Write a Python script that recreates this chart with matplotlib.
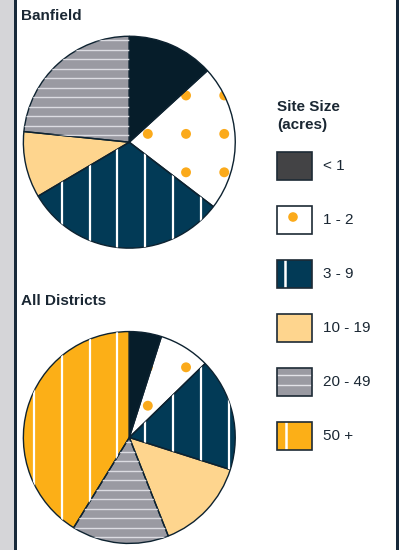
import numpy as np
import matplotlib
matplotlib.use("Agg")
import matplotlib.pyplot as plt
from matplotlib.patches import Rectangle, Circle

plt.rcParams['font.family'] = ['Liberation Sans', 'DejaVu Sans']

# data (percent of sites by size class)
categories = ['< 1', '1 - 2', '3 - 9', '10 - 19', '20 - 49', '50 +']
banfield = [13.2, 22.2, 31.1, 10.1, 23.4, 0.0]
all_districts = [4.9, 7.8, 17.2, 14.1, 14.8, 41.2]
pie_titles = ['Banfield', 'All Districts']

fills = ['#061d2a', '#ffffff', '#023a56', '#fed58e', '#9a9aa2', '#fcaf17']
legend_fills = ['#434345', '#ffffff', '#023a56', '#fed58e', '#9a9aa2', '#fcaf17']
patterns = [None, 'dots', 'vlines', None, 'hlines', 'vlines']
dot_color = '#fbaa1b'
edge = '#0d2230'
ink = '#1a2733'

W, H = 399, 550
R = 107.0
centers = [(129.3, 142.2), (129.3, 437.5)]
title_pos = [(21, 20), (21, 305)]

fig = plt.figure(figsize=(W / 100, H / 100), dpi=100)

# background panel in pixel coordinates
bg = fig.add_axes([0, 0, 1, 1])
bg.set_xlim(0, W)
bg.set_ylim(H, 0)
bg.axis('off')
bg.add_patch(Rectangle((0, 0), 14, H, color='#d5d5d8', lw=0))
bg.add_patch(Rectangle((14, 0), 2.6, H, color='#17293a', lw=0))
bg.add_patch(Rectangle((395.5, 0), 3, H, color='#17293a', lw=0))

for title, (tx, ty) in zip(pie_titles, title_pos):
    bg.text(tx, ty, title, fontsize=11, fontweight='bold', color=ink,
            ha='left', va='baseline')

# legend
bg.text(277, 111, 'Site Size', fontsize=11, fontweight='bold', color=ink, va='baseline')
bg.text(277, 129, '(acres)', fontsize=11, fontweight='bold', color=ink, va='baseline')
bx, bw, bh = 277, 35, 28
for i, (lab, fc, pat) in enumerate(zip(categories, legend_fills, patterns)):
    by = 152 + 54 * i
    bg.add_patch(Rectangle((bx, by), bw, bh, facecolor=fc, edgecolor='none', zorder=2))
    if pat == 'dots':
        bg.add_patch(Circle((bx + 16, by + 11), 4.8, color=dot_color, lw=0, zorder=3))
    elif pat == 'vlines':
        off = 8 if i == 2 else 9
        bg.plot([bx + off, bx + off], [by, by + bh], color='white', lw=1.8, zorder=3)
    elif pat == 'hlines':
        for off in (7, 17):
            bg.plot([bx, bx + bw], [by + off, by + off], color='#e2e2e8', lw=1.0, zorder=3)
    bg.add_patch(Rectangle((bx, by), bw, bh, facecolor='none', edgecolor='#1d2a35',
                           lw=1.2, zorder=4))
    bg.text(323, by + bh / 2, lab, fontsize=11, color=ink, ha='left', va='center')


def draw_pie(values, cx, cy):
    ax = fig.add_axes([(cx - R) / W, 1 - (cy + R) / H, 2 * R / W, 2 * R / H])
    ax.patch.set_alpha(0)
    keep = [i for i, v in enumerate(values) if v > 0]
    vals = [values[i] for i in keep]
    wedges, _ = ax.pie(vals, colors=[fills[i] for i in keep], startangle=90,
                       counterclock=False, radius=1,
                       wedgeprops=dict(linewidth=0))

    def X(px):
        return (px - cx) / R

    def Y(py):
        return (cy - py) / R

    for w, i in zip(wedges, keep):
        pat = patterns[i]
        if pat == 'vlines':
            for px in np.arange(33 - 28.1, cx + R + 5, 28.1):
                ln, = ax.plot([X(px)] * 2, [-1.2, 1.2], color='white', lw=1.6)
                ln.set_clip_path(w)
        elif pat == 'hlines':
            for py in np.arange(39.3 - 9.6 * 2, cy + R + 5, 9.6):
                if py < cy - R - 5:
                    continue
                ln, = ax.plot([-1.2, 1.2], [Y(py)] * 2, color='#dcdce2', lw=1.0)
                ln.set_clip_path(w)
        elif pat == 'dots':
            for px in np.arange(148 - 38.6 * 4, cx + R + 10, 38.6):
                for py in np.arange(95 - 38.8 * 2, cy + R + 10, 38.8):
                    if abs(py - cy) > R + 10:
                        continue
                    c = Circle((X(px), Y(py)), 5.0 / R, color=dot_color, lw=0)
                    ax.add_patch(c)
                    c.set_clip_path(w)

    # outlines on top of the patterns
    ax.pie(vals, startangle=90, counterclock=False, radius=1,
           wedgeprops=dict(fill=False, edgecolor=edge, linewidth=1.0))
    ax.set_xlim(-1.01, 1.01)
    ax.set_ylim(-1.01, 1.01)
    ax.axis('off')


for values, (cx, cy) in zip([banfield, all_districts], centers):
    draw_pie(values, cx, cy)

fig.savefig('out.png', dpi=100)
